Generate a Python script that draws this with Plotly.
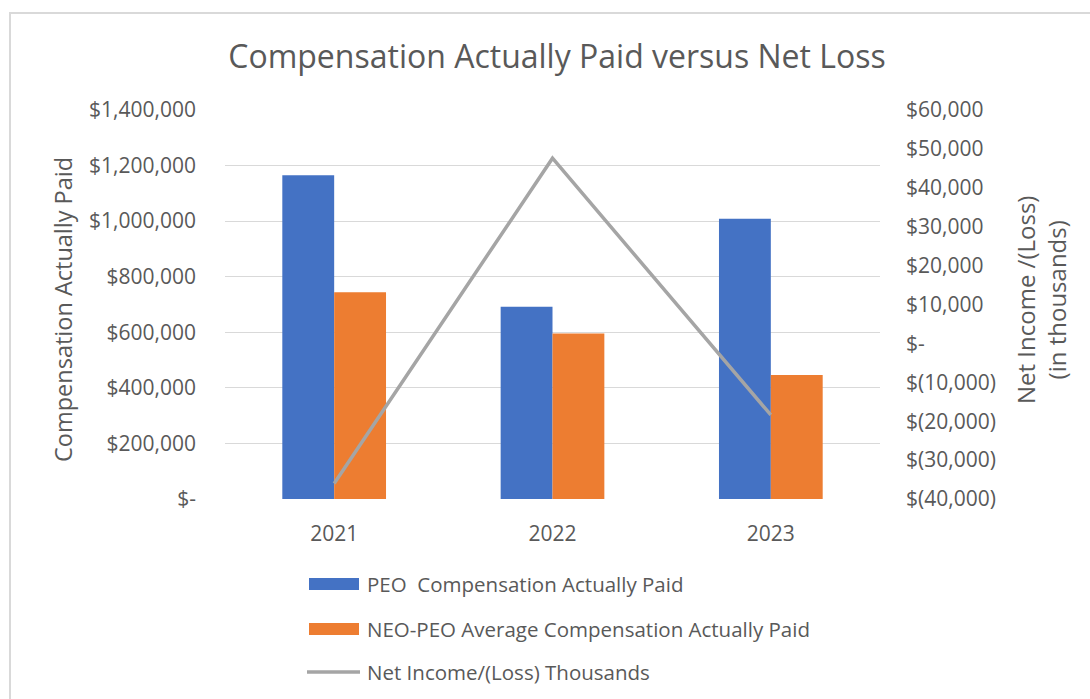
import plotly.graph_objects as go

years = ["2021", "2022", "2023"]
peo_cap = [1165000, 692000, 1009000]
neo_cap = [744000, 596000, 446000]
net_income = [-36000, 47600, -18400]

left_tickvals = [0, 200000, 400000, 600000, 800000, 1000000, 1200000, 1400000]
left_ticktext = ["$-", "$200,000", "$400,000", "$600,000", "$800,000",
                 "$1,000,000", "$1,200,000", "$1,400,000"]
right_tickvals = [-40000, -30000, -20000, -10000, 0, 10000, 20000, 30000, 40000, 50000, 60000]
right_ticktext = ["$(40,000)", "$(30,000)", "$(20,000)", "$(10,000)", "$-",
                  "$10,000", "$20,000", "$30,000", "$40,000", "$50,000", "$60,000"]

series_names = ["PEO  Compensation Actually Paid",
                "NEO-PEO Average Compensation Actually Paid",
                "Net Income/(Loss) Thousands"]
series_colors = ["#4472c4", "#ed7d31", "#a5a5a5"]

FONT = "Open Sans"
GRAY = "#595959"

# plot area in pixels
L, R, T, B = 225, 880, 110, 499
W, H = R - L, B - T


def px(x):
    return (x - L) / W


def py(y):
    return (B - y) / H


fig = go.Figure()
fig.add_trace(go.Bar(x=years, y=peo_cap, name=series_names[0],
                     marker=dict(color=series_colors[0], line=dict(width=0)),
                     showlegend=False))
fig.add_trace(go.Bar(x=years, y=neo_cap, name=series_names[1],
                     marker=dict(color=series_colors[1], line=dict(width=0)),
                     showlegend=False))
fig.add_trace(go.Scatter(x=years, y=net_income, name=series_names[2],
                         mode="lines", line=dict(color=series_colors[2], width=3.5),
                         yaxis="y2", showlegend=False))

# custom legend (wide swatches like the original)
legend_rows_y = [584, 629, 672]
shapes = [
    dict(type="rect", xref="paper", yref="paper",
         x0=px(10), x1=px(1100), y0=py(710), y1=py(13),
         line=dict(color="#d9d9d9", width=2), fillcolor="rgba(0,0,0,0)",
         layer="below"),
]
annotations = [
    dict(text="Compensation Actually Paid", xref="paper", yref="paper",
         x=px(63), y=py(310), xanchor="center", yanchor="middle", textangle=-90,
         showarrow=False, font=dict(size=23.5, color=GRAY, family=FONT)),
    dict(text="Net Income /(Loss)<br>(in thousands)", xref="paper", yref="paper",
         x=px(1041), y=py(300), xanchor="center", yanchor="middle", textangle=-90,
         showarrow=False, font=dict(size=24, color=GRAY, family=FONT)),
]
for i, (name, color, ry) in enumerate(zip(series_names, series_colors, legend_rows_y)):
    if i < 2:
        shapes.append(dict(type="rect", xref="paper", yref="paper",
                           x0=px(309), x1=px(359), y0=py(ry + 6), y1=py(ry - 6),
                           line=dict(width=0), fillcolor=color))
    else:
        shapes.append(dict(type="line", xref="paper", yref="paper",
                           x0=px(307), x1=px(360), y0=py(ry), y1=py(ry),
                           line=dict(color=color, width=3.5)))
    annotations.append(dict(text=name, xref="paper", yref="paper",
                            x=px(365), y=py(ry), xanchor="left", yanchor="middle",
                            showarrow=False,
                            font=dict(size=20.5, color=GRAY, family=FONT)))

fig.update_layout(
    width=1090, height=699,
    margin=dict(l=L, r=1090 - R, t=T, b=699 - B),
    paper_bgcolor="white", plot_bgcolor="white",
    font=dict(family=FONT, color=GRAY, size=21),
    barmode="group", bargap=0.525, bargroupgap=0,
    title=dict(text="Compensation Actually Paid versus Net Loss",
               x=557 / 1090, xanchor="center", y=1 - 57 / 699, yanchor="middle",
               font=dict(size=32, color=GRAY, family=FONT)),
    xaxis=dict(type="category", showgrid=False, showline=False, zeroline=False,
               ticklabelstandoff=20, tickfont=dict(size=21, color=GRAY)),
    yaxis=dict(range=[0, 1400000], tickvals=left_tickvals, ticktext=left_ticktext,
               showgrid=True, gridcolor="#d9d9d9", gridwidth=1, zeroline=False,
               showline=False, ticklabelstandoff=28,
               tickfont=dict(size=21, color=GRAY)),
    yaxis2=dict(range=[-40000, 60000], tickvals=right_tickvals, ticktext=right_ticktext,
                overlaying="y", side="right", showgrid=False, zeroline=False,
                showline=False, ticklabelstandoff=25,
                tickfont=dict(size=21, color=GRAY)),
    showlegend=False,
    annotations=annotations,
    shapes=shapes,
)

fig.write_html("out.html")
